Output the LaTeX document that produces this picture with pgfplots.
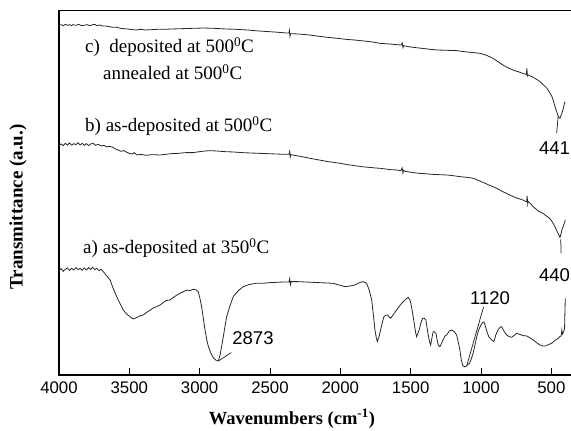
\documentclass[border=0pt]{standalone}
\usepackage{fontspec}
\setmainfont{Liberation Serif}
\setsansfont{Liberation Sans}
\usepackage{pgfplots}
\usepackage{pgfplotstable}
\pgfplotsset{compat=1.18}

\pgfplotstableread{
wn Y
4000 812
3985 806
3970 814
3955 808
3940 804
3925 811
3910 805
3895 810
3880 803
3865 809
3851 805
3835 811
3820 804
3805 810
3790 803
3775 808
3760 802
3745 809
3732 805
3715 812
3700 808
3685 815
3660 828
3637 840
3615 865
3590 890
3565 912
3543 930
3520 942
3495 950
3475 957
3460 955
3440 951
3420 947
3401 945
3380 938
3350 930
3330 924
3306 920
3280 915
3260 908
3240 902
3211 900
3190 893
3160 885
3140 880
3116 875
3090 870
3070 872
3045 868
3025 870
3010 875
2998 895
2986 920
2974 955
2962 990
2950 1018
2938 1040
2920 1060
2900 1075
2880 1082
2867 1083
2855 1065
2844 1040
2826 995
2808 950
2785 918
2761 890
2725 872
2690 860
2650 854
2600 850
2550 850
2500 848
2450 847
2400 846
2365 846
2360 836
2355 854
2350 845
2300 845
2250 846
2200 847
2150 848
2100 849
2052 850
2010 855
1967 860
1930 858
1896 855
1870 849
1839 845
1813 850
1795 870
1777 900
1765 945
1754 990
1745 1012
1737 1025
1725 1010
1714 990
1700 965
1690 950
1678 946
1666 945
1655 950
1642 955
1620 942
1600 930
1570 913
1541 900
1518 892
1505 900
1494 920
1484 945
1475 970
1466 995
1458 1010
1450 1002
1440 990
1428 970
1415 955
1403 955
1392 960
1383 985
1375 1005
1366 1025
1358 1035
1348 1012
1340 995
1330 996
1320 1000
1312 1020
1304 1035
1292 1040
1280 1030
1268 1018
1256 1008
1244 1005
1225 993
1209 990
1190 995
1173 1005
1160 1030
1150 1050
1140 1080
1130 1097
1118 1100
1108 1100
1095 1095
1082 1090
1070 1078
1056 1060
1043 1035
1030 1010
1017 990
1004 978
990 968
979 966
968 980
960 992
945 1010
924 1020
908 1025
895 1005
879 990
865 982
853 980
835 995
818 1005
800 1010
782 1012
760 1005
746 1000
720 1004
700 1007
675 1008
650 1014
628 1020
605 1028
581 1035
560 1038
545 1038
520 1034
498 1030
475 1022
460 1017
450 1015
440 1010
430 1008
425 990
421 1002
412 995
406 985
403 930
401 895
}\seriesA

\pgfplotstableread{
wn Y
4000 436
3985 432
3970 437
3955 430
3940 435
3925 429
3910 436
3895 431
3880 434
3865 428
3850 435
3835 430
3820 436
3805 431
3790 437
3775 432
3758 430
3740 436
3720 433
3700 438
3680 436
3660 441
3640 439
3616 442
3600 447
3580 450
3560 454
3540 452
3517 457
3500 460
3480 462
3465 458
3446 465
3420 463
3380 466
3340 464
3282 465
3240 463
3200 461
3150 460
3100 458
3047 458
3000 455
2960 453
2927 452
2880 453
2820 455
2760 456
2692 458
2640 459
2580 460
2520 461
2460 462
2400 463
2365 463
2360 454
2356 471
2352 464
2300 468
2250 472
2216 475
2150 480
2100 484
2050 487
2000 490
1950 494
1900 497
1850 500
1800 502
1750 504
1718 505
1680 507
1640 509
1600 510
1570 512
1560 504
1555 519
1550 511
1540 514
1510 516
1483 518
1440 520
1400 521
1350 523
1300 524
1242 525
1200 527
1150 530
1100 532
1054 535
1020 541
980 548
950 554
915 560
880 567
850 574
820 580
797 585
770 590
740 595
702 600
690 603
676 605
672 588
668 612
665 604
650 610
630 620
610 627
590 634
559 640
535 648
512 655
495 665
480 675
464 690
450 702
439 712
430 700
425 690
415 678
404 665
401 660
}\seriesB

\pgfplotstableread{
wn Y
4000 76
3985 74
3970 77
3955 73
3940 76
3925 74
3910 77
3902 74
3880 76
3860 73
3840 77
3824 76
3800 74
3780 77
3760 74
3746 73
3730 77
3710 75
3690 78
3669 78
3640 80
3620 82
3591 82
3560 85
3540 86
3514 87
3480 89
3450 90
3420 88
3384 90
3340 89
3300 88
3255 88
3200 87
3126 86
3050 85
2970 84
2900 85
2815 87
2740 88
2660 90
2580 93
2505 95
2440 97
2380 99
2366 99
2362 91
2358 109
2354 101
2300 102
2220 105
2150 109
2091 112
2020 115
1961 118
1900 120
1832 123
1770 126
1718 130
1650 132
1600 134
1568 135
1560 129
1555 143
1550 137
1530 139
1483 142
1420 145
1360 148
1313 150
1240 151
1171 152
1100 156
1050 158
1007 160
960 166
915 175
880 185
844 195
810 203
773 210
730 216
690 222
678 223
674 205
670 228
665 225
630 232
605 238
580 245
555 255
531 265
512 278
495 290
484 305
474 320
462 335
450 350
439 355
430 345
425 340
415 325
404 305
}\seriesC

\begin{document}
\begin{tikzpicture}
\begin{axis}[
  scale only axis, width=514pt, height=364.3pt,
  x dir=reverse, xmin=346.1, xmax=4000,
  ymin=-1125, ymax=-32,
  enlargelimits=false, clip=false,
  axis line style={line width=1.1pt, black},
  xtick={500,1000,1500,2000,2500,3000,3500,4000},
  xtick pos=left, tick align=inside,
  major tick length=7pt,
  every tick/.style={black, line width=1pt},
  ytick=\empty,
  /pgf/number format/1000 sep={},
  /pgf/number format/assume math mode=true,
  xticklabel style={font=\sffamily\fontsize{16.8}{18}\selectfont, yshift=-3pt},
]
\addplot[black!85, line width=0.8pt] table[x=wn, y expr=-\thisrow{Y}] {\seriesA};
\addplot[black!85, line width=0.8pt] table[x=wn, y expr=-\thisrow{Y}] {\seriesB};
\addplot[black!85, line width=0.8pt] table[x=wn, y expr=-\thisrow{Y}] {\seriesC};

% leader lines
\draw[black!85, line width=0.75pt] (axis cs:2867,-1083) -- (axis cs:2776,-1058);
\draw[black!85, line width=0.75pt] (axis cs:1100,-1095) -- (axis cs:982,-921);
\draw[black!85, line width=0.75pt] (axis cs:451,-348) -- (axis cs:462,-400);
\draw[black!85, line width=0.75pt] (axis cs:433,-718) -- (axis cs:431,-760);

% annotations
\begin{scope}[font=\sffamily\fontsize{18.5}{20}\selectfont, inner sep=0pt]
\node at (axis cs:2621,-1014) {2873};
\node at (axis cs:936,-895) {1120};
\node at (axis cs:478,-444) {441};
\node at (axis cs:478,-825) {440};
\end{scope}
\begin{scope}[font=\fontsize{19}{22}\selectfont, inner sep=0pt]
\node[anchor=base west] at (axis cs:3815,-158) {c)\ \ deposited at 500\textsuperscript{0}C};
\node[anchor=base west] at (axis cs:3687,-240) {annealed at 500\textsuperscript{0}C};
\node[anchor=base west] at (axis cs:3815,-395) {b) as-deposited at 500\textsuperscript{0}C};
\node[anchor=base west] at (axis cs:3829,-760) {a) as-deposited at 350\textsuperscript{0}C};
\end{scope}
\node[font=\bfseries\fontsize{18.5}{20}\selectfont, inner sep=0pt] at (axis cs:2344,-1256) {Wavenumbers (cm\textsuperscript{-1})};
\node[font=\bfseries\fontsize{19}{20}\selectfont, inner sep=0pt, rotate=90] at (axis cs:4291,-621) {Transmittance (a.u.)};

\coordinate (bbsw) at (axis cs:4419.4,-1293);
\coordinate (bbne) at (axis cs:360.3,0);
\end{axis}
\pgfresetboundingbox
\path[use as bounding box] (bbsw) rectangle (bbne);
\end{tikzpicture}
\end{document}
